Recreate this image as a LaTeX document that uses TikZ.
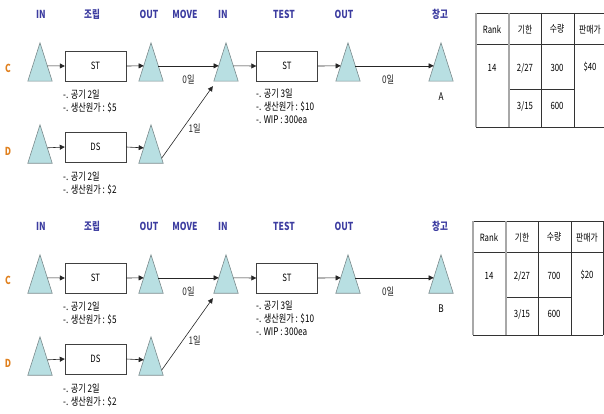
\documentclass[tikz,border=0pt]{standalone}
\usepackage{fontspec}
\setmainfont{Noto Sans CJK KR}[FakeStretch=0.78]
\usetikzlibrary{arrows.meta,calc}

\definecolor{hdblue}{HTML}{3C3CA0}
\definecolor{roworange}{HTML}{E0801E}
\definecolor{trifill}{HTML}{B8DFE2}
\definecolor{trigray}{HTML}{7A8A8C}
\definecolor{tblgray}{HTML}{A8A8A8}

\tikzset{
  hdr/.style={text=hdblue, font=\fontsize{11}{12}\selectfont\bfseries},
  rowlbl/.style={text=roworange, font=\fontsize{11}{12}\selectfont\bfseries},
  tri/.style={minimum width=24pt, minimum height=38pt, inner sep=0pt},
  trishape/.style={fill=trifill, draw=trigray, line width=0.6pt},
  proc/.style={draw=black!75, minimum width=61pt, minimum height=30pt, inner sep=0pt,
    font=\fontsize{10}{11}\selectfont},
  note/.style={font=\fontsize{10.5}{13}\selectfont, align=left, anchor=north west, inner sep=0pt},
  lbl/.style={font=\fontsize{10.5}{11}\selectfont, inner sep=1pt},
  cell/.style={font=\fontsize{10}{11}\selectfont, inner sep=1pt},
  arr/.style={-{Triangle[length=5pt,width=5pt]}, black!85, line width=0.6pt},
  tdark/.style={black!80, line width=0.7pt},
  tgray/.style={tblgray, line width=1.2pt}
}

\begin{document}
\begin{tikzpicture}[x=1pt,y=-1pt]
\useasboundingbox (0,0) rectangle (604,414);

\foreach \p/\yo/\tx/\ty/\sink/\qty/\price/\rx/\rs in
  {1/0/476/13/A/300/40/604/none, 2/212/473/221/B/700/20/603/black!80} {
\begin{scope}[shift={(0,\yo)}]
% column heads
\node[hdr] (hIn\p) at (41,14) {IN};
\node[hdr] (hAs\p) at (92,14) {조립};
\node[hdr] (hOut\p) at (149,14) {OUT};
\node[hdr] (hMv\p) at (185,14) {MOVE};
\node[hdr] (hTin\p) at (223,14) {IN};
\node[hdr] (hTs\p) at (284,14) {TEST};
\node[hdr] (hTout\p) at (344,14) {OUT};
\node[hdr] (hWh\p) at (440,14) {창고};
\node[rowlbl] (rC\p) at (8,68) {C};
\node[rowlbl] (rD\p) at (8,151) {D};

% triangles
\node[tri] (inC\p) at (40,62) {};
\node[tri] (outC\p) at (151,62) {};
\node[tri] (inD\p) at (40,144) {};
\node[tri] (outD\p) at (151,144) {};
\node[tri] (inT\p) at (226,62) {};
\node[tri] (outT\p) at (348,62) {};
\node[tri] (wh\p) at (441,62) {};
\foreach \t in {inC\p,outC\p,inD\p,outD\p,inT\p,outT\p,wh\p}
  \draw[trishape] (\t.south west) -- (\t.north) -- (\t.south east) -- cycle;

% boxes
\node[proc] (asC\p) at (95.5,66) {ST};
\node[proc] (asD\p) at (95.5,147) {DS};
\node[proc] (ts\p) at (287,66) {ST};

\draw[arr] ($(inC\p.north)!0.6!(inC\p.south east)$) -- (asC\p.west);
\draw[arr] (asC\p.east) -- ($(outC\p.north)!0.6!(outC\p.south west)$);
\draw[arr] ($(inD\p.north)!0.6!(inD\p.south east)$) -- (asD\p.west);
\draw[arr] (asD\p.east) -- ($(outD\p.north)!0.6!(outD\p.south west)$);
\draw[arr] ($(outC\p.north)!0.6!(outC\p.south east)$) --
  node[lbl, yshift=-14pt] (mvC\p) {0일} ($(inT\p.north)!0.6!(inT\p.south west)$);
\draw[arr] ($(outD\p.north)!0.87!(outD\p.south east)$) --
  node[lbl, anchor=west, yshift=-6pt] (mvD\p) {1일} ([shift={(-1,5)}]inT\p.south west);
\draw[arr] ($(inT\p.north)!0.6!(inT\p.south east)$) -- (ts\p.west);
\draw[arr] (ts\p.east) -- ($(outT\p.north)!0.6!(outT\p.south west)$);
\draw[arr] ($(outT\p.north)!0.6!(outT\p.south east)$) --
  node[lbl, pos=0.42, yshift=-14pt] (shC\p) {0일} ($(wh\p.north)!0.6!(wh\p.south west)$);
\node[lbl] (sk\p) at (441,97) {\sink};

% notes
\node[note] (nC\p) at (63,90) {-. 공기 2일\\-. 생산원가 : \$5};
\node[note] (nD\p) at (63,172) {-. 공기 2일\\-. 생산원가 : \$2};
\node[note] (nT\p) at (256,89) {-. 공기 3일\\-. 생산원가 : \$10\\-. WIP : 300ea};
\end{scope}

% order table
\draw[tdark] (\tx,\ty) -- (\rx,\ty);
\draw[tdark] (\tx,\ty+31) -- (\rx,\ty+31);
\draw[tdark] (\tx,\ty+114) -- (\rx,\ty+114);
\draw[tdark] (\tx+33,\ty+76) -- (\tx+98,\ty+76);
\draw[tgray] (\tx,\ty) -- (\tx,\ty+114);
\draw[tgray] (\tx+33,\ty) -- (\tx+33,\ty+114);
\draw[tdark] (\tx+65,\ty) -- (\tx+65,\ty+114);
\draw[tdark] (\tx+98,\ty) -- (\tx+98,\ty+114);
\draw[tdark, draw=\rs] (\rx,\ty) -- (\rx,\ty+114);
\node[cell] (tRk\p) at (\tx+16,\ty+17) {Rank};
\node[cell] (tDue\p) at (\tx+49,\ty+17) {기한};
\node[cell] (tQty\p) at (\tx+81,\ty+16) {수량};
\node[cell] (tPr\p) at (\tx+114,\ty+17) {판매가};
\node[cell] (vRk\p) at (\tx+16,\ty+55) {14};
\node[cell] (vDa\p) at (\tx+49,\ty+55) {2/27};
\node[cell] (vQa\p) at (\tx+81,\ty+55) {\qty};
\node[cell] (vPr\p) at (\tx+114,\ty+54) {\$\price};
\node[cell] (vDb\p) at (\tx+49,\ty+93) {3/15};
\node[cell] (vQb\p) at (\tx+81,\ty+93) {600};
}
\end{tikzpicture}
\end{document}
